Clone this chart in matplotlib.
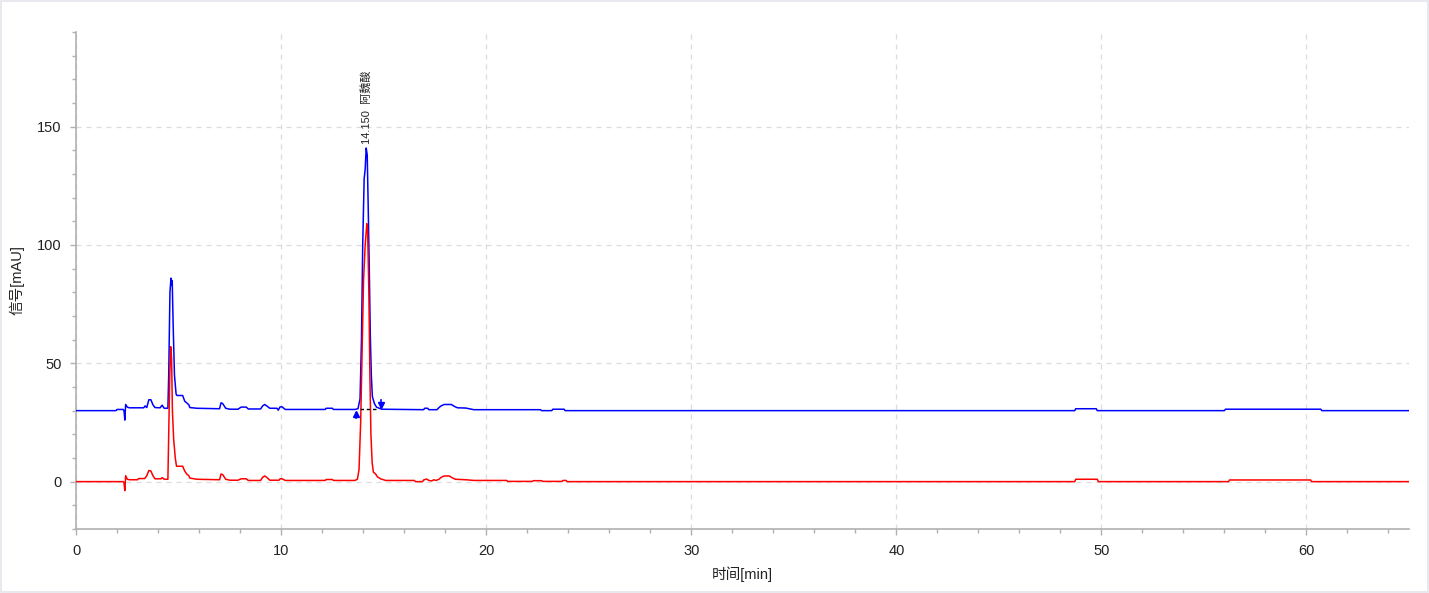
import matplotlib
matplotlib.use("Agg")
import matplotlib.pyplot as plt
from matplotlib.patches import Rectangle
from matplotlib.ticker import MultipleLocator

plt.rcParams['font.family'] = ['Liberation Sans', 'Noto Sans CJK SC', 'DejaVu Sans']

# ---- data (time [min], signal [mAU]) ----
blue_t = [0.0, 1.95, 2.0, 2.3, 2.34, 2.38, 2.42, 2.5, 2.6, 3.3, 3.37, 3.45, 3.55, 3.65, 3.75, 3.85,
          4.1, 4.2, 4.3, 4.48, 4.52, 4.58, 4.63, 4.66, 4.69, 4.74, 4.8, 4.88, 4.92, 5.2, 5.3, 5.5,
          5.55, 5.9, 7.0, 7.07, 7.15, 7.3, 7.5, 7.9, 8.05, 8.3, 8.4, 9.0, 9.1, 9.2, 9.3, 9.45, 9.8,
          9.86, 9.95, 10.05, 10.2, 12.15, 12.2, 12.5, 12.55, 13.6, 13.75, 13.85, 13.92, 13.98,
          14.05, 14.1, 14.15, 14.2, 14.25, 14.3, 14.35, 14.4, 14.45, 14.55, 14.65, 14.9, 16.95,
          17.0, 17.15, 17.2, 17.6, 17.7, 17.8, 17.95, 18.3, 18.45, 18.6, 19.0, 19.4, 22.65, 22.7,
          23.2, 23.25, 23.8, 23.85, 48.7, 48.75, 49.75, 49.8, 56.0, 56.05, 60.7, 60.75, 65.0]
blue_v = [30.0, 30.0, 30.5, 30.5, 30.0, 26.0, 32.6, 31.5, 31.2, 31.2, 32.0, 31.3, 34.6, 34.6, 32.5, 31.3,
          31.2, 32.3, 31.0, 31.0, 45.0, 80.0, 86.0, 83.0, 85.0, 65.0, 45.0, 37.0, 36.4, 36.4, 34.0, 32.5,
          31.3, 31.0, 30.8, 33.3, 33.0, 31.0, 30.6, 30.6, 31.5, 31.5, 30.7, 30.7, 32.0, 32.6, 32.0, 31.0, 31.0,
          30.2, 31.6, 31.6, 30.5, 30.5, 31.0, 31.0, 30.5, 30.5, 30.8, 35.0, 60.0, 100.0,
          128.0, 132.0, 141.0, 138.0, 115.0, 90.0, 62.0, 45.0, 36.0, 33.0, 31.5, 30.6, 30.4,
          31.0, 31.0, 30.4, 30.4, 31.3, 32.0, 32.6, 32.6, 31.8, 31.2, 31.1, 30.4, 30.4, 30.0,
          30.0, 30.6, 30.6, 30.0, 30.0, 30.8, 30.8, 30.0, 30.0, 30.6, 30.6, 30.0, 30.0]

red_t = [0.0, 2.3, 2.34, 2.38, 2.42, 2.5, 2.6, 3.0, 3.05, 3.35, 3.45, 3.55, 3.65, 3.75, 3.85, 4.15,
         4.2, 4.3, 4.48, 4.52, 4.57, 4.62, 4.66, 4.7, 4.76, 4.84, 4.9, 5.2, 5.3, 5.4, 5.5, 5.55, 5.9,
         7.0, 7.07, 7.15, 7.3, 7.5, 7.9, 8.05, 8.3, 8.4, 9.0, 9.1, 9.2, 9.3, 9.45, 9.9, 9.95, 10.05,
         10.2, 12.15, 12.2, 12.5, 12.55, 13.6, 13.72, 13.8, 13.88, 13.95, 14.02, 14.1, 14.18, 14.22,
         14.28, 14.33, 14.38, 14.44, 14.5, 14.6, 14.7, 14.85, 15.1, 16.5, 16.55, 16.9, 16.95, 17.1,
         17.2, 17.35, 17.45, 17.55, 17.7, 17.8, 17.95, 18.2, 18.35, 18.5, 19.0, 19.4, 21.0, 21.05,
         22.25, 22.3, 22.7, 22.75, 23.7, 23.75, 23.9, 23.95, 48.7, 48.75, 49.8, 49.85, 56.2, 56.25,
         60.2, 60.25, 65.0]
red_v = [0.0, 0.0, -0.5, -3.8, 2.5, 1.0, 0.8, 0.8, 1.3, 1.3, 2.5, 4.7, 4.5, 2.5, 1.2, 1.2,
         1.7, 1.0, 1.0, 20.0, 45.0, 57.0, 52.0, 30.0, 18.0, 10.0, 6.5, 6.5, 4.5, 3.2, 2.5, 1.5, 1.0,
         0.8, 3.2, 3.0, 1.0, 0.6, 0.6, 1.2, 1.2, 0.5, 0.5, 1.8, 2.4, 1.8, 0.6, 0.6, 1.2, 1.2,
         0.5, 0.5, 0.9, 0.9, 0.5, 0.5, 1.0, 5.0, 25.0, 55.0, 85.0, 100.0, 109.0, 106.0,
         80.0, 45.0, 20.0, 8.0, 4.0, 3.3, 2.0, 1.2, 0.5, 0.5, 0.0, 0.0, 0.7, 1.1,
         0.5, 0.3, 0.8, 0.5, 1.0, 1.8, 2.4, 2.4, 1.6, 1.0, 0.8, 0.5, 0.5, 0.1,
         0.1, 0.4, 0.4, 0.1, 0.1, 0.5, 0.5, 0.0, 0.0, 1.0, 1.0, 0.0, 0.0, 0.7,
         0.7, 0.0, 0.0]

peak_rt = 14.150
peak_height = 141.0
peak_name = "阿魏酸"
peak_start = (13.67, 30.3)
peak_end = (14.89, 30.6)

x_ticks = [0, 10, 20, 30, 40, 50, 60]
y_ticks = [0, 50, 100, 150]

fig = plt.figure(figsize=(14.29, 5.93), dpi=100)
ax = fig.add_axes([0.0532, 0.108, 0.9328, 0.838])

ax.plot(blue_t, blue_v, color='#0000ff', lw=1.1, zorder=3)
ax.plot(red_t, red_v, color='#ff0000', lw=1.1, zorder=4)

# integration baseline and peak markers
ax.plot([13.87, 14.68], [30.8, 30.8], color='black', lw=1.0, ls=(0, (2.5, 2)), zorder=5)
ax.plot([peak_start[0], peak_start[0]], [peak_start[1] - 3.5, peak_start[1] - 1.5],
        color='#0000ff', lw=1.2, zorder=5)
ax.plot([peak_start[0]], [peak_start[1] - 1.8], marker='^', color='#0000ff', ms=4, zorder=5)
ax.plot([peak_end[0], peak_end[0]], [peak_end[1] + 1.0, peak_end[1] + 3.8],
        color='#0000ff', lw=1.2, zorder=5)
ax.plot([peak_end[0]], [peak_end[1] + 1.6], marker='v', color='#0000ff', ms=4, zorder=5)

ax.text(peak_rt, peak_height + 1.5, f"{peak_rt:.3f}  {peak_name}", rotation=90,
        ha='center', va='bottom', fontsize=8, color='#222222', zorder=6)

ax.set_xlim(0, 65)
ax.set_ylim(-20, 190)
ax.set_xticks(x_ticks)
ax.set_yticks(y_ticks)
ax.xaxis.set_minor_locator(MultipleLocator(2))
ax.yaxis.set_minor_locator(MultipleLocator(10))
ax.grid(True, which='major', color='#dcdcdc', ls=(0, (4, 4)), lw=0.9, zorder=0)
ax.set_axisbelow(True)

for s in ['top', 'right']:
    ax.spines[s].set_visible(False)
for s in ['left', 'bottom']:
    ax.spines[s].set_color('#b0b0b0')
    ax.spines[s].set_linewidth(1.2)

ax.tick_params(axis='both', which='major', length=4.5, width=1, color='#b0b0b0',
               labelsize=10.5, labelcolor='#222222', pad=6)
ax.tick_params(axis='both', which='minor', length=3, width=1, color='#b0b0b0')

ax.set_xlabel("时间[min]", fontsize=10.5, color='#222222', labelpad=6)
ax.set_ylabel("信号[mAU]", fontsize=10.5, color='#222222', labelpad=9)

fig.patches.append(Rectangle((0.001, 0.002), 0.998, 0.996, transform=fig.transFigure,
                             fill=False, edgecolor='#e4e4ec', lw=1.2))

fig.savefig("out.png", dpi=100)
